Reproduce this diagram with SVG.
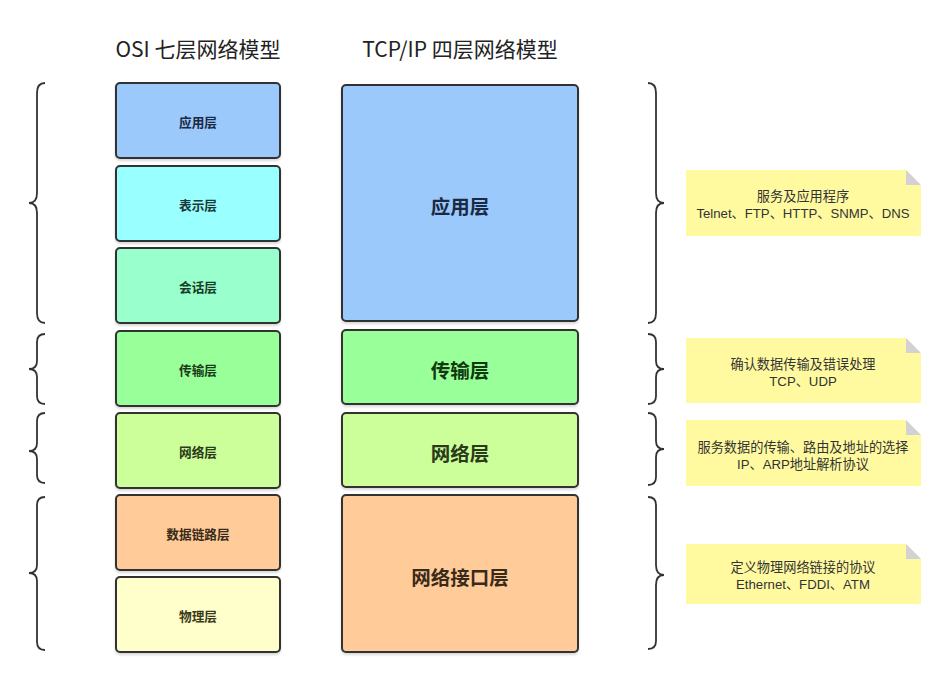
<svg xmlns="http://www.w3.org/2000/svg" width="947" height="678" viewBox="0 0 947 678">
<defs>
<style>
.box{stroke:#333;stroke-width:2}
.t{font-family:"Noto Sans CJK SC","Liberation Sans",sans-serif;text-anchor:middle;dominant-baseline:central}
.s{font-size:12.7px;font-weight:bold}
.b{font-size:19.5px;font-weight:bold}
.title{font-family:"Noto Sans CJK SC","Liberation Sans",sans-serif;font-size:21px;fill:#222;text-anchor:middle}
.note{fill:#FFFAA0}
.fold{fill:#D2D2D6}
.nt{font-family:"Liberation Sans","Noto Sans CJK SC",sans-serif;font-size:13.2px;fill:#333;text-anchor:middle}
.br{fill:none;stroke:#333;stroke-width:1.8}
</style>
<filter id="sh" x="-5%" y="-5%" width="110%" height="115%"><feDropShadow dx="0" dy="2" stdDeviation="1" flood-color="#000" flood-opacity="0.15"/></filter>
</defs>
<rect width="947" height="678" fill="#fff"/>
<text class="title" x="198" y="57">OSI 七层网络模型</text>
<text class="title" x="460" y="57">TCP/IP 四层网络模型</text>

<g id="osi-app"><rect class="box" x="116" y="83" width="164" height="75" rx="4" fill="#9CC9FB" filter="url(#sh)"/><text class="t s" x="198" y="121" fill="#1A2A44">应用层</text></g>
<g id="osi-pres"><rect class="box" x="116" y="166" width="164" height="75" rx="4" fill="#99FFFF" filter="url(#sh)"/><text class="t s" x="198" y="204" fill="#1A3A3A">表示层</text></g>
<g id="osi-sess"><rect class="box" x="116" y="248" width="164" height="75" rx="4" fill="#99FFCC" filter="url(#sh)"/><text class="t s" x="198" y="286" fill="#1A3A2A">会话层</text></g>
<g id="osi-trans"><rect class="box" x="116" y="331" width="164" height="75" rx="4" fill="#99FF99" filter="url(#sh)"/><text class="t s" x="198" y="369" fill="#1A3A1A">传输层</text></g>
<g id="osi-net"><rect class="box" x="116" y="413" width="164" height="75" rx="4" fill="#CCFF99" filter="url(#sh)"/><text class="t s" x="198" y="451" fill="#2A3A1A">网络层</text></g>
<g id="osi-link"><rect class="box" x="116" y="495" width="164" height="75" rx="4" fill="#FFCC99" filter="url(#sh)"/><text class="t s" x="198" y="533" fill="#3A2A1A">数据链路层</text></g>
<g id="osi-phys"><rect class="box" x="116" y="577" width="164" height="75" rx="4" fill="#FFFFCC" filter="url(#sh)"/><text class="t s" x="198" y="615" fill="#3A3A1A">物理层</text></g>

<g id="tcp-app"><rect class="box" x="342" y="85" width="236" height="236" rx="4" fill="#9CC9FB" filter="url(#sh)"/><text class="t b" x="460" y="205" fill="#1A2A44">应用层</text></g>
<g id="tcp-trans"><rect class="box" x="342" y="330" width="236" height="74" rx="4" fill="#99FF99" filter="url(#sh)"/><text class="t b" x="460" y="369" fill="#0E3A0E">传输层</text></g>
<g id="tcp-net"><rect class="box" x="342" y="413" width="236" height="74" rx="4" fill="#CCFF99" filter="url(#sh)"/><text class="t b" x="460" y="452" fill="#2A3A1A">网络层</text></g>
<g id="tcp-link"><rect class="box" x="342" y="495" width="236" height="157" rx="4" fill="#FFCC99" filter="url(#sh)"/><text class="t b" x="460" y="576" fill="#3A2A1A">网络接口层</text></g>

<g id="braces">
<path class="br" d="M45,83 Q37,83 37,93 L37,193 Q37,203 29,203 Q37,203 37,213 L37,313 Q37,323 45,323"/>
<path class="br" d="M45,334 Q37,334 37,342 L37,361 Q37,369 29,369 Q37,369 37,377 L37,396 Q37,404 45,404"/>
<path class="br" d="M45,413 Q37,413 37,421 L37,443 Q37,451 29,451 Q37,451 37,459 L37,475 Q37,483 45,483"/>
<path class="br" d="M45,497 Q37,497 37,505 L37,565 Q37,573 29,573 Q37,573 37,581 L37,642 Q37,650 45,650"/>
<path class="br" d="M648,83 Q656,83 656,93 L656,193 Q656,203 664,203 Q656,203 656,213 L656,313 Q656,323 648,323"/>
<path class="br" d="M648,334 Q656,334 656,342 L656,361 Q656,369 664,369 Q656,369 656,377 L656,396 Q656,404 648,404"/>
<path class="br" d="M648,413 Q656,413 656,421 L656,441 Q656,449 664,449 Q656,449 656,457 L656,477 Q656,485 648,485"/>
<path class="br" d="M648,497 Q656,497 656,505 L656,565 Q656,575 664,575 Q656,575 656,585 L656,641 Q656,649 648,649"/>
</g>

<g id="note-app">
<path class="note" d="M686,170 H906 L921,185 V236 H686 Z"/><path class="fold" d="M906,170 L921,185 H906 Z"/>
<text class="nt" x="803" y="201">服务及应用程序</text>
<text class="nt" x="803" y="218">Telnet、FTP、HTTP、SNMP、DNS</text>
</g>
<g id="note-trans">
<path class="note" d="M686,338 H906 L921,353 V403 H686 Z"/><path class="fold" d="M906,338 L921,353 H906 Z"/>
<text class="nt" x="803" y="369">确认数据传输及错误处理</text>
<text class="nt" x="803" y="386">TCP、UDP</text>
</g>
<g id="note-net">
<path class="note" d="M686,420 H906 L921,435 V486 H686 Z"/><path class="fold" d="M906,420 L921,435 H906 Z"/>
<text class="nt" x="803" y="452">服务数据的传输、路由及地址的选择</text>
<text class="nt" x="803" y="469">IP、ARP地址解析协议</text>
</g>
<g id="note-link">
<path class="note" d="M686,544 H906 L921,559 V604 H686 Z"/><path class="fold" d="M906,544 L921,559 H906 Z"/>
<text class="nt" x="803" y="572">定义物理网络链接的协议</text>
<text class="nt" x="803" y="589">Ethernet、FDDI、ATM</text>
</g>
</svg>
